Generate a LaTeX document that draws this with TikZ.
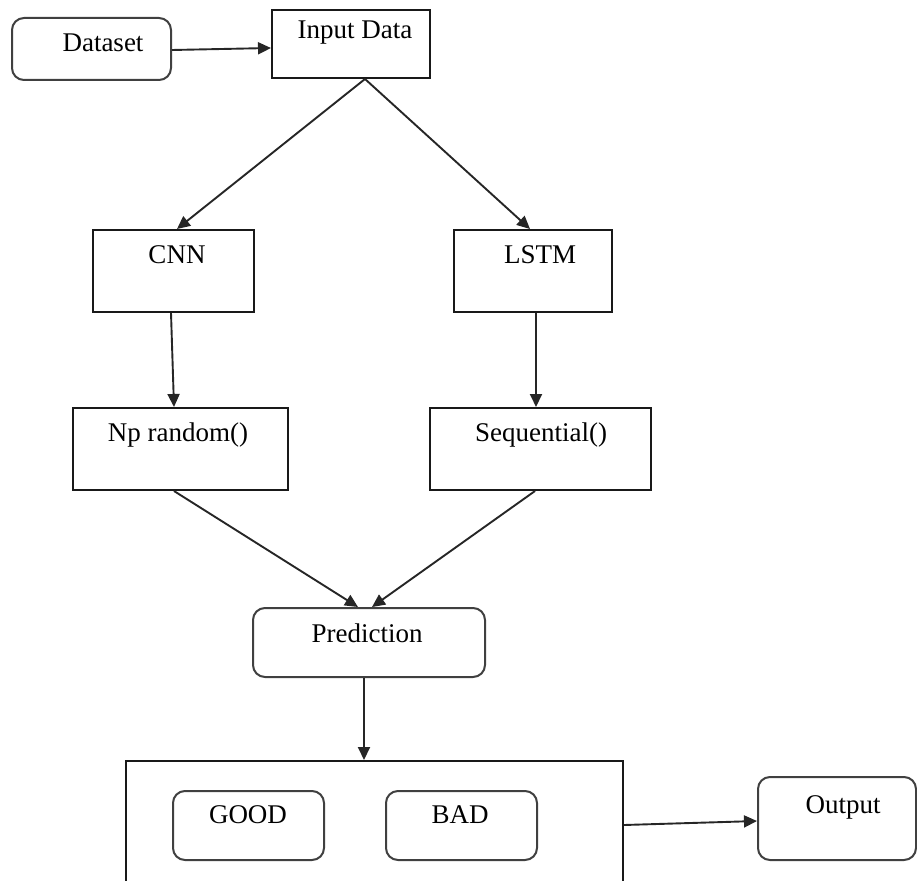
\documentclass[tikz,border=0pt]{standalone}
\usepackage{fontspec}
\setmainfont{Liberation Serif}
\usetikzlibrary{arrows.meta}
\begin{document}
\begin{tikzpicture}[x=1pt,y=-1pt,
  box/.style={draw=black!90,line width=2pt,inner sep=0pt},
  rbox/.style={box,rounded corners=12pt,draw=black!75},
  lbl/.style={inner sep=0pt,font=\fontsize{27}{30}\selectfont},
  conn/.style={line width=1.9pt,draw=black!85,-{Triangle[length=13pt,width=12pt]}}]
\useasboundingbox (0,0) rectangle (917,880);
% boxes
\node[rbox,minimum width=159pt,minimum height=62pt] (ds) at (91.5,49) {};
\node[box,minimum width=158pt,minimum height=68pt] (in) at (351,44) {};
\node[box,minimum width=161pt,minimum height=82pt] (cnn) at (173.5,271) {};
\node[box,minimum width=158pt,minimum height=82pt] (lstm) at (533,271) {};
\node[box,minimum width=215pt,minimum height=82pt] (np) at (180.5,449) {};
\node[box,minimum width=221pt,minimum height=82pt] (seq) at (540.5,449) {};
\node[rbox,minimum width=232pt,minimum height=69pt] (pred) at (369,642.5) {};
\node[box,minimum width=497pt,minimum height=144pt] (big) at (374.5,833) {};
\node[rbox,minimum width=151pt,minimum height=69pt] (good) at (248.5,825.5) {};
\node[rbox,minimum width=151pt,minimum height=69pt] (bad) at (461.5,825.5) {};
\node[rbox,minimum width=158pt,minimum height=83pt] (out) at (837,818.5) {};
% labels
\node[lbl] (tds) at (103,43) {Dataset};
\node[lbl] (tin) at (355,33) {Input Data};
\node[lbl] (tcnn) at (177,255) {CNN};
\node[lbl] (tlstm) at (540,255) {LSTM};
\node[lbl] (tnp) at (178,435) {Np random()};
\node[lbl] (tseq) at (541,435) {Sequential()};
\node[lbl] (tpred) at (367,633) {Prediction};
\node[lbl] (tgood) at (248,815) {GOOD};
\node[lbl] (tbad) at (460,815) {BAD};
\node[lbl] (tout) at (843,807) {Output};
% connectors
\coordinate (apex) at ([xshift=14pt]in.south);
\draw[conn] ([yshift=-1pt]ds.east) -- ([yshift=-4pt]in.west);
\draw[conn] (apex) -- ([xshift=3.5pt]cnn.north);
\draw[conn] (apex) -- ([xshift=-3pt]lstm.north);
\draw[conn] ([xshift=-2.5pt]cnn.south) -- ([xshift=-6.5pt]np.north);
\draw[conn] ([xshift=3pt]lstm.south) -- ([xshift=-4.5pt]seq.north);
\draw[conn] ([xshift=-6.5pt]np.south) -- ([xshift=-11pt]pred.north);
\draw[conn] ([xshift=-5.5pt]seq.south) -- ([xshift=3pt]pred.north);
\draw[conn] ([xshift=-5pt]pred.south) -- ([xshift=-10.5pt]big.north);
\draw[conn] ([yshift=8pt]big.east) -- ([yshift=-2.5pt]out.west);
\end{tikzpicture}
\end{document}
